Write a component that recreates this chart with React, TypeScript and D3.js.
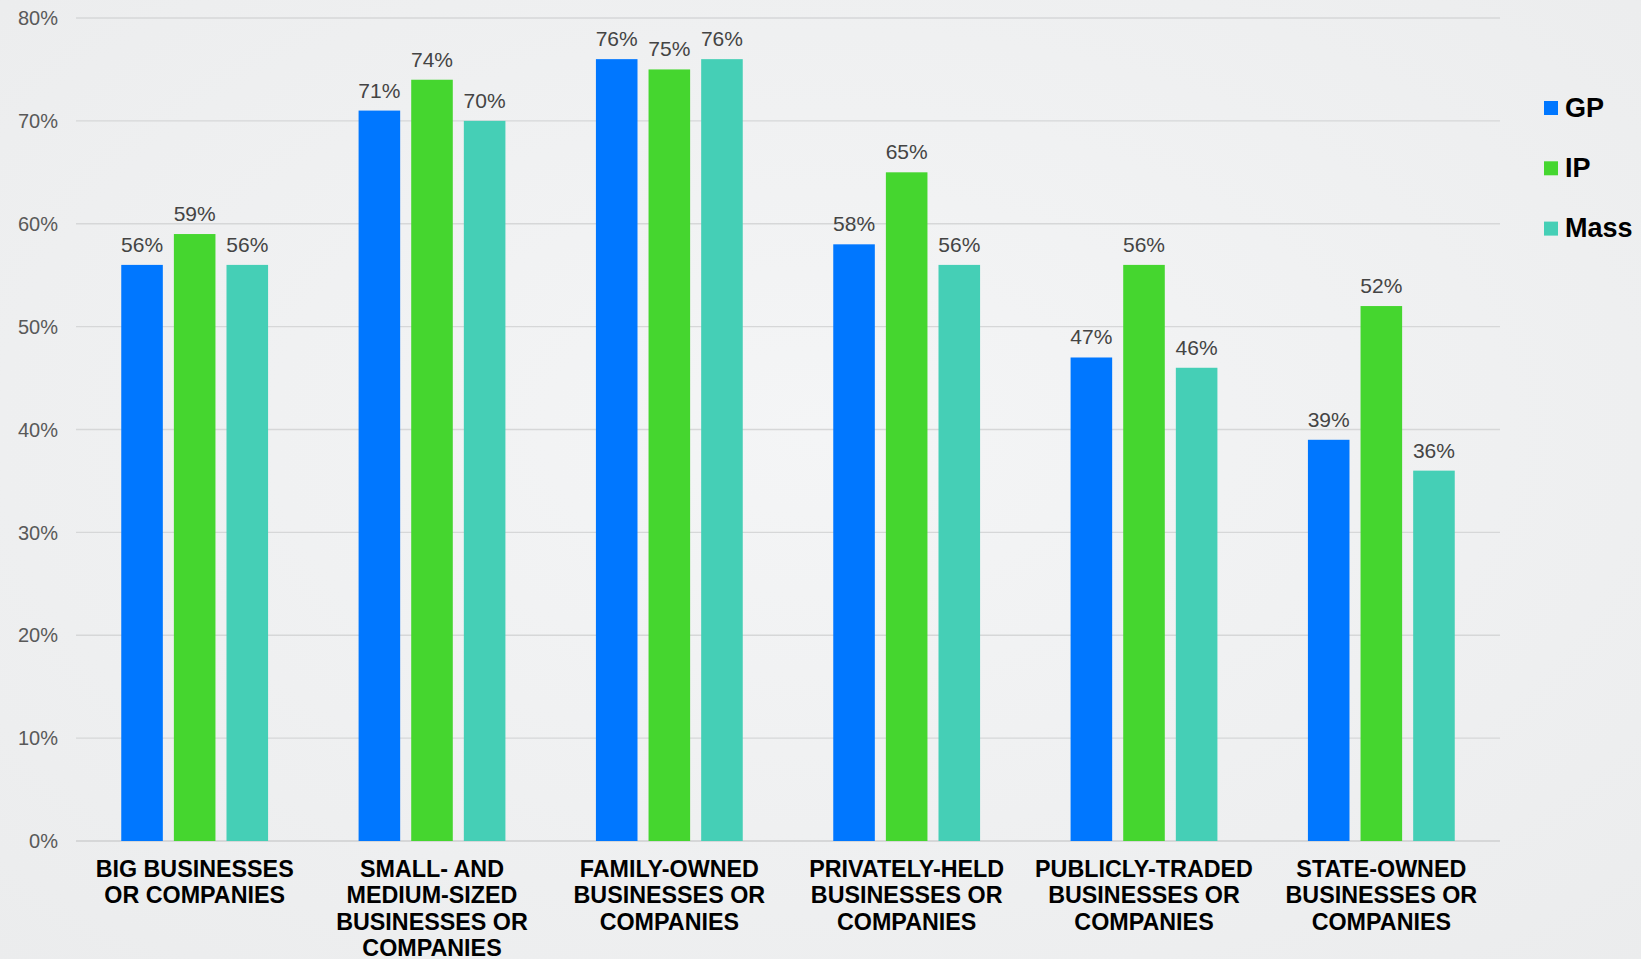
import React from "react";
import * as d3 from "d3";

const categories = [
  ["BIG BUSINESSES", "OR COMPANIES"],
  ["SMALL- AND", "MEDIUM-SIZED", "BUSINESSES OR", "COMPANIES"],
  ["FAMILY-OWNED", "BUSINESSES OR", "COMPANIES"],
  ["PRIVATELY-HELD", "BUSINESSES OR", "COMPANIES"],
  ["PUBLICLY-TRADED", "BUSINESSES OR", "COMPANIES"],
  ["STATE-OWNED", "BUSINESSES OR", "COMPANIES"],
];
const seriesNames = ["GP", "IP", "Mass"];
const gpValues = [56, 71, 76, 58, 47, 39];
const ipValues = [59, 74, 75, 65, 56, 52];
const massValues = [56, 70, 76, 56, 46, 36];
const seriesColors = ["#0077FF", "#45D62F", "#45CFB6"];
const yTicks = [0, 10, 20, 30, 40, 50, 60, 70, 80];

const W = 1641;
const H = 959;
const FONT = "'Liberation Sans', Arial, Helvetica, sans-serif";

export default function App() {
  const series = [gpValues, ipValues, massValues];
  const idx = categories.map((_, i) => String(i));
  const x0 = d3.scaleBand().domain(idx).range([76, 1500]).padding(0);
  const x1 = d3
    .scaleBand()
    .domain(seriesNames)
    .range([0, x0.bandwidth()])
    .paddingInner(0.21)
    .paddingOuter(0.86);
  const y = d3.scaleLinear().domain([0, 80]).range([841, 18]);

  return (
    <svg
      width={W}
      height={H}
      style={{ position: "absolute", left: 0, top: 0, display: "block" }}
      fontFamily={FONT}
    >
      <defs>
        <radialGradient id="bg" cx="50%" cy="45%" r="75%">
          <stop offset="0%" stopColor="#f4f5f6" />
          <stop offset="100%" stopColor="#ebeced" />
        </radialGradient>
      </defs>
      <rect x={0} y={0} width={W} height={H} fill="url(#bg)" />
      {yTicks.map((t) => (
        <g key={t}>
          <line
            x1={76}
            x2={1500}
            y1={y(t)}
            y2={y(t)}
            stroke="#d6d7d8"
            strokeWidth={t === 0 ? 2 : 1.3}
          />
          <text
            x={58}
            y={y(t)}
            dy="0.36em"
            textAnchor="end"
            fontSize={20}
            fill="#595959"
          >
            {t}%
          </text>
        </g>
      ))}
      {categories.map((lines, ci) => {
        const gx = x0(String(ci))!;
        return (
          <g key={ci}>
            {series.map((vals, si) => {
              const bx = gx + x1(seriesNames[si])!;
              const v = vals[ci];
              return (
                <g key={si}>
                  <rect
                    x={bx}
                    y={y(v)}
                    width={x1.bandwidth()}
                    height={y(0) - y(v)}
                    fill={seriesColors[si]}
                  />
                  <text
                    x={bx + x1.bandwidth() / 2}
                    y={y(v) - 13}
                    textAnchor="middle"
                    fontSize={21}
                    fill="#444444"
                  >
                    {v}%
                  </text>
                </g>
              );
            })}
            {lines.map((ln, li) => (
              <text
                key={li}
                x={gx + x0.bandwidth() / 2}
                y={877 + li * 26.3}
                textAnchor="middle"
                fontSize={23.3}
                fontWeight="bold"
                fill="#000"
              >
                {ln}
              </text>
            ))}
          </g>
        );
      })}
      {seriesNames.map((name, i) => (
        <g key={name}>
          <rect x={1544} y={101 + i * 60.3} width={14} height={14} fill={seriesColors[i]} />
          <text x={1565} y={116.7 + i * 60.3} fontSize={27} fontWeight="bold" fill="#000">
            {name}
          </text>
        </g>
      ))}
    </svg>
  );
}
